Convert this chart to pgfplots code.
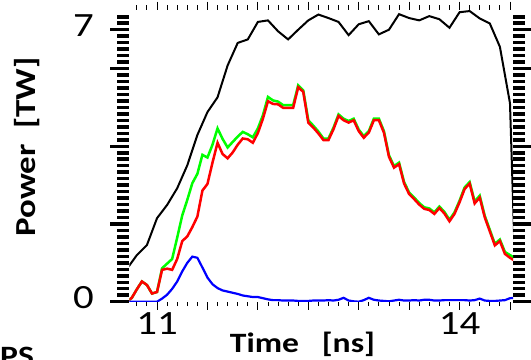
\documentclass[border=0pt]{standalone}
\usepackage{fontspec}
\setmainfont{Carlito}[FakeStretch=1.2]
\usepackage{pgfplots}
\pgfplotsset{compat=1.18}
\begin{document}
\begin{tikzpicture}
\useasboundingbox (0,0) rectangle (531bp,360bp);
\clip (0,0) rectangle (531bp,360bp);
\begin{axis}[
  scale only axis,
  width=383.7bp, height=292.2bp,
  at={(129.3bp,58.3bp)}, anchor=south west,
  xmin=10.725, xmax=14.53,
  ymin=0, ymax=7.52,
  axis line style={draw=none},
  tick align=outside,
  every tick/.style={black},
  every x tick/.style={black, line width=0.9bp, /pgfplots/major tick length=8bp, /pgfplots/minor tick length=4.5bp},
  every y tick/.style={black, line width=3.5bp, /pgfplots/major tick length=19bp, /pgfplots/minor tick length=12bp},
  every minor tick/.style={},
  xtick={11,14}, xticklabels={11,14},
  extra x ticks={11.5,12,12.5,13,13.5,14.5},
  extra x tick labels={},
  minor xtick={10.8,10.9,11.1,11.2,11.3,11.4,11.6,11.7,11.8,11.9,12.1,12.2,12.3,12.4,12.6,12.7,12.8,12.9,13.1,13.2,13.3,13.4,13.6,13.7,13.8,13.9,14.1,14.2,14.3,14.4},
  ytick={0,7}, yticklabels={0,7},
  extra y ticks={2,4,6},
  extra y tick labels={},
  minor ytick={0.1667,0.3333,0.5,0.6667,0.8333,1,1.1667,1.3333,1.5,1.6667,1.8333,2.1667,2.3333,2.5,2.6667,2.8333,3,3.1667,3.3333,3.5,3.6667,3.8333,4.1667,4.3333,4.5,4.6667,4.8333,5,5.1667,5.3333,5.5,5.6667,5.8333,6.1667,6.3333,6.5,6.6667,6.8333,7.1667,7.3333},
  xticklabel style={font=\fontsize{34bp}{36bp}\selectfont, anchor=north, inner sep=0pt, yshift=-6bp},
  yticklabel style={font=\fontsize{34bp}{36bp}\selectfont, anchor=east, inner sep=0pt, xshift=-31bp, yshift=4.5bp},
  xlabel={\textbf{Time\ \ \ [ns]}},
  ylabel={\textbf{Power\ \ [TW]}},
  xlabel style={font=\fontsize{28bp}{30bp}\selectfont, at={(axis description cs:0.4514,-0.1448)}, anchor=center, inner sep=0pt},
  ylabel style={font=\fontsize{29bp}{31bp}\selectfont, at={(axis description cs:-0.2666,0.530)}, anchor=center, inner sep=0pt},
]
% black
\addplot[black, line width=2bp] coordinates {
(10.7,0.84) (10.8,1.20) (10.9,1.46) (11.0,2.15) (11.1,2.49) (11.2,2.92) (11.3,3.51) (11.4,4.29) (11.5,4.88) (11.6,5.26)
(11.7,6.08) (11.8,6.66) (11.9,6.75) (12.0,7.20) (12.1,7.24) (12.2,6.96) (12.3,6.75) (12.4,7.00) (12.5,7.24) (12.6,7.39)
(12.7,7.30) (12.8,7.20) (12.9,6.86) (13.0,7.14) (13.1,7.22) (13.2,6.88) (13.3,7.00) (13.4,7.40) (13.5,7.30) (13.6,7.24)
(13.7,7.35) (13.8,7.27) (13.9,7.05) (14.0,7.45) (14.1,7.48) (14.2,7.29) (14.3,7.16) (14.4,6.56) (14.5,5.11) (14.55,0.95)
};
% green
\addplot[green, line width=2.5bp] coordinates {
(10.70,0.00) (10.75,0.10) (10.80,0.32) (10.85,0.52) (10.90,0.43) (10.95,0.21) (11.00,0.25)
(11.05,0.86) (11.10,0.98) (11.15,1.10) (11.20,1.65) (11.25,2.22) (11.30,2.62) (11.35,3.05) (11.40,3.29)
(11.45,3.78) (11.50,3.71) (11.55,4.04) (11.60,4.46) (11.65,4.19) (11.70,3.97) (11.75,4.11) (11.80,4.25)
(11.85,4.37) (11.90,4.31) (11.95,4.23) (12.00,4.46) (12.05,4.80) (12.10,5.27) (12.15,5.18) (12.20,5.15)
(12.25,5.06) (12.30,5.06) (12.35,5.06) (12.40,5.57) (12.45,5.44) (12.50,4.67) (12.55,4.53) (12.60,4.38)
(12.65,4.20) (12.70,4.20) (12.75,4.48) (12.80,4.82) (12.85,4.71) (12.90,4.65) (12.95,4.71) (13.00,4.43)
(13.05,4.26) (13.10,4.39) (13.15,4.71) (13.20,4.71) (13.25,4.39) (13.30,3.77) (13.35,3.49) (13.40,3.58)
(13.45,3.08) (13.50,2.81) (13.55,2.68) (13.60,2.54) (13.65,2.43) (13.70,2.40) (13.75,2.30) (13.80,2.45)
(13.85,2.31) (13.90,2.11) (13.95,2.30) (14.00,2.60) (14.05,2.94) (14.10,3.08) (14.15,2.58) (14.20,2.73)
(14.25,2.21) (14.30,1.85) (14.35,1.49) (14.40,1.60) (14.45,1.28) (14.50,1.20) (14.55,1.12)
};
% red
\addplot[red, line width=2.5bp] coordinates {
(10.70,0.00) (10.75,0.10) (10.80,0.32) (10.85,0.52) (10.90,0.43) (10.95,0.21) (11.00,0.25)
(11.05,0.82) (11.10,0.85) (11.15,0.82) (11.20,1.10) (11.25,1.56) (11.30,1.68) (11.35,1.92) (11.40,2.19)
(11.45,2.86) (11.50,3.03) (11.55,3.58) (11.60,4.09) (11.65,3.80) (11.70,3.69) (11.75,3.84) (11.80,4.04)
(11.85,4.20) (11.90,4.18) (11.95,4.09) (12.00,4.34) (12.05,4.71) (12.10,5.16) (12.15,5.09) (12.20,5.08)
(12.25,4.99) (12.30,4.99) (12.35,4.99) (12.40,5.52) (12.45,5.40) (12.50,4.61) (12.55,4.48) (12.60,4.33)
(12.65,4.16) (12.70,4.16) (12.75,4.44) (12.80,4.78) (12.85,4.67) (12.90,4.61) (12.95,4.67) (13.00,4.39)
(13.05,4.22) (13.10,4.35) (13.15,4.67) (13.20,4.67) (13.25,4.35) (13.30,3.73) (13.35,3.45) (13.40,3.54)
(13.45,3.04) (13.50,2.77) (13.55,2.64) (13.60,2.50) (13.65,2.39) (13.70,2.36) (13.75,2.26) (13.80,2.41)
(13.85,2.27) (13.90,2.07) (13.95,2.26) (14.00,2.56) (14.05,2.90) (14.10,3.04) (14.15,2.53) (14.20,2.68)
(14.25,2.17) (14.30,1.81) (14.35,1.45) (14.40,1.56) (14.45,1.23) (14.50,1.13) (14.55,1.05)
};
% blue
\addplot[blue, line width=2.2bp] coordinates {
(10.70,0) (10.75,0) (10.80,0) (10.85,0) (10.90,0) (10.95,0) (11.00,0)
(11.05,0.08) (11.10,0.18) (11.15,0.33) (11.20,0.52) (11.25,0.78) (11.30,1.00) (11.35,1.16) (11.40,1.13)
(11.45,0.88) (11.50,0.62) (11.55,0.45) (11.60,0.35) (11.65,0.29) (11.70,0.26) (11.75,0.23) (11.80,0.20)
(11.85,0.16) (11.90,0.14) (11.95,0.12) (12.00,0.12) (12.05,0.09) (12.10,0.06) (12.15,0.04) (12.20,0.04)
(12.25,0.03) (12.30,0.03) (12.35,0.03) (12.40,0.02) (12.45,0.02) (12.50,0.02) (12.55,0.03) (12.60,0.03)
(12.65,0.03) (12.70,0.04) (12.75,0.03) (12.80,0.05) (12.85,0.10) (12.90,0.03) (12.95,0.01) (13.00,0.00)
(13.05,0.04) (13.10,0.10) (13.15,0.05) (13.20,0.03) (13.25,0.02) (13.30,0.01) (13.35,0.03) (13.40,0.05)
(13.45,0.03) (13.50,0.03) (13.55,0.04) (13.60,0.03) (13.65,0.05) (13.70,0.05) (13.75,0.03) (13.80,0.03)
(13.85,0.04) (13.90,0.04) (13.95,0.04) (14.00,0.04) (14.05,0.04) (14.10,0.03) (14.15,0.04) (14.20,0.08)
(14.25,0.03) (14.30,0.02) (14.35,0.02) (14.40,0.03) (14.45,0.04) (14.50,0.09) (14.55,0.10)
};
\end{axis}
\node[anchor=north west, inner sep=0pt, font=\fontsize{28bp}{30bp}\selectfont\bfseries] at (0bp,13bp) {PS};
\end{tikzpicture}
\end{document}
